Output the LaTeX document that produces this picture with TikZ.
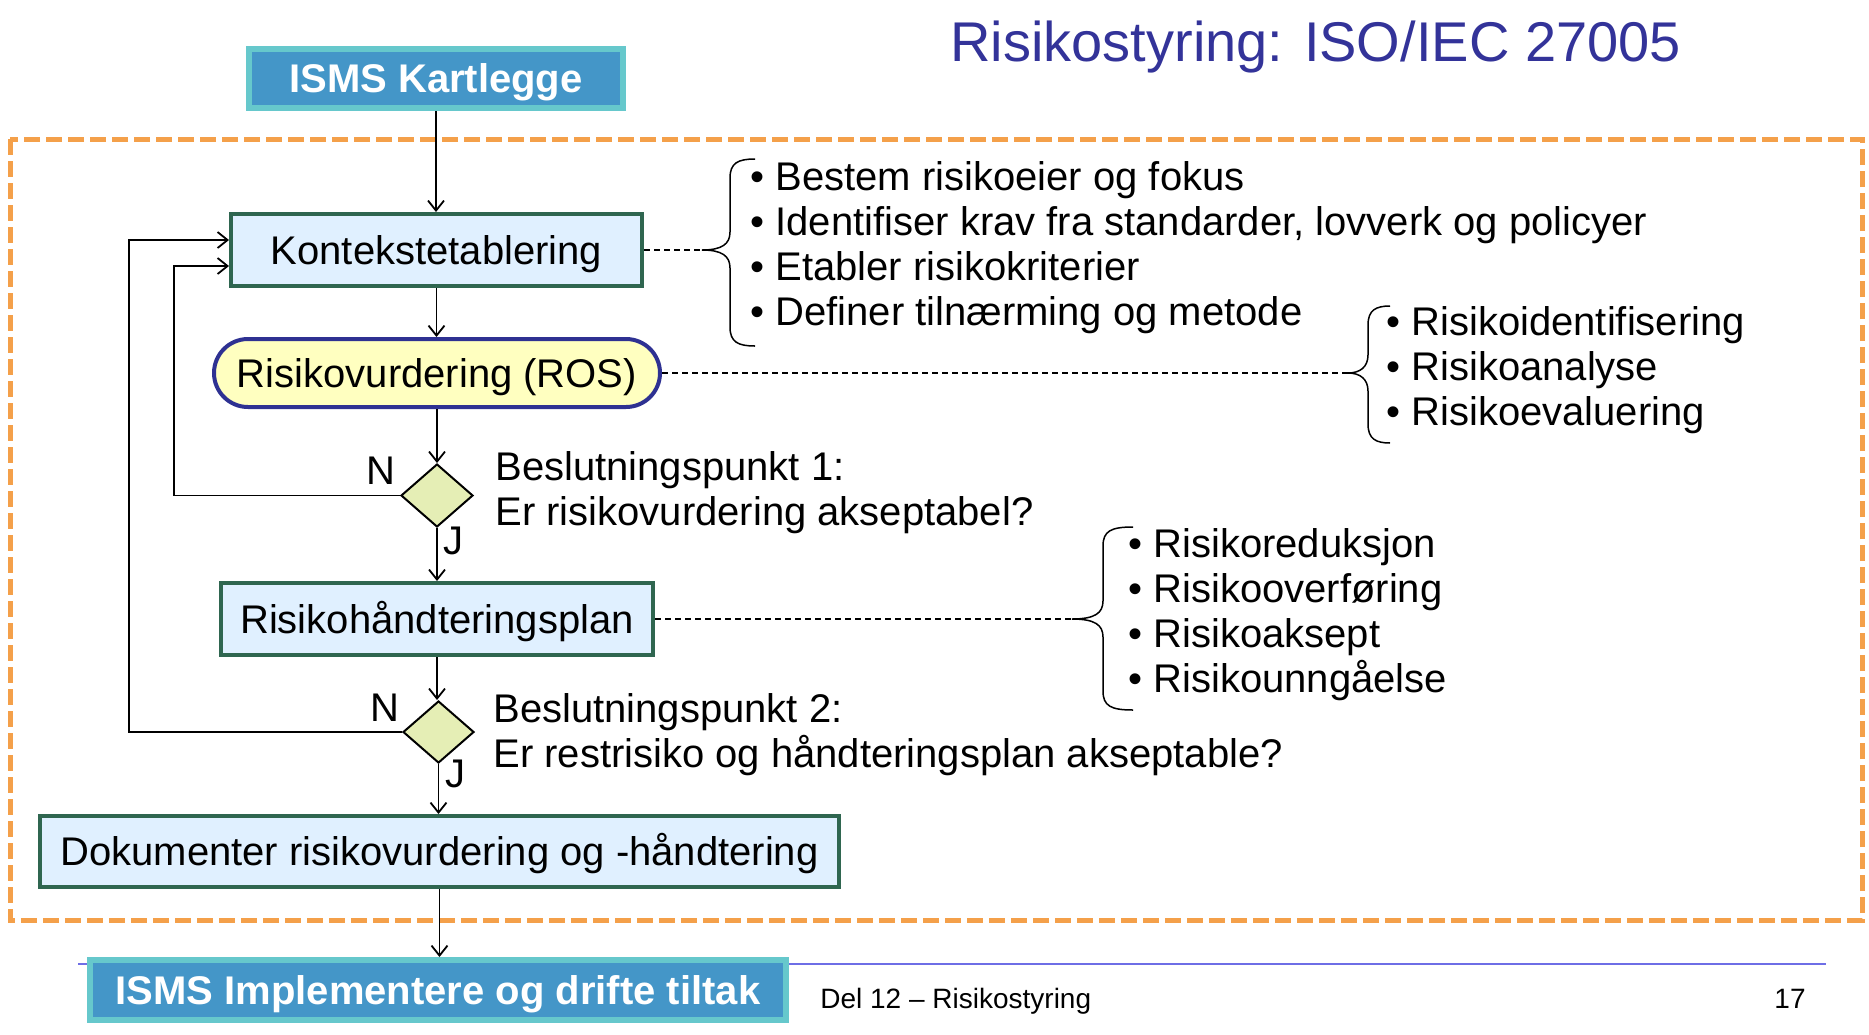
\documentclass[tikz,border=0pt]{standalone}
\usepackage{fontspec}
\setmainfont{Liberation Sans}
\usetikzlibrary{arrows.meta,shapes.geometric}
\definecolor{kartfill}{RGB}{68,150,200}
\definecolor{kartdraw}{RGB}{102,200,204}
\definecolor{boxfill}{RGB}{224,240,255}
\definecolor{boxdraw}{RGB}{47,102,80}
\definecolor{rosfill}{RGB}{255,255,192}
\definecolor{rosdraw}{RGB}{46,49,146}
\definecolor{diafill}{RGB}{229,238,181}
\definecolor{orangeline}{RGB}{244,160,74}
\definecolor{titleblue}{RGB}{51,51,153}
\definecolor{footline}{RGB}{110,110,230}
\newcommand\drawbrace[6]{%
  \draw[bracestyle] (#1,#4) .. controls ({#2+8},#4) and (#2,{#4+4}) .. (#2,{#4+19})
    -- (#2,{#5-18}) .. controls (#2,{#5-6}) and ({#2-8},#5) .. (#3,#5)
    .. controls ({#2-8},#5) and (#2,{#5+6}) .. (#2,{#5+18})
    -- (#2,{#6-19}) .. controls (#2,{#6-4}) and ({#2+8},#6) .. (#1,#6);}
\begin{document}
\begin{tikzpicture}[x=0.5pt,y=-0.5pt,
  fb/.style={font=\fontsize{20}{22.5}\selectfont},
  boxtext/.style={text height=18pt, text depth=4pt},
  isms/.style={draw=kartdraw, fill=kartfill, line width=3pt, text=white,
    font=\fontsize{20}{22.5}\selectfont\bfseries, inner sep=0pt, boxtext},
  flowbox/.style={draw=boxdraw, fill=boxfill, line width=2pt, fb, inner sep=0pt, boxtext},
  rosbox/.style={draw=rosdraw, fill=rosfill, line width=2pt, fb, inner sep=0pt,
    rounded corners=17pt, boxtext},
  decision/.style={shape=diamond, draw=black, line width=1pt, fill=diafill,
    inner sep=0pt},
  arr/.style={-{Straight Barb[length=5pt,width=8pt]}, line width=0.9pt},
  dashcon/.style={dashed, line width=0.6pt, dash pattern=on 3pt off 2pt},
  bracestyle/.style={line width=0.75pt},
  lt/.style={fb, anchor=base west, inner sep=0pt},
  yn/.style={fb, inner sep=0pt}
]
\useasboundingbox (0,0) rectangle (1869,1034);

% footer rule and orange frame
\draw[footline, line width=0.75pt] (78,964) -- (1826,964);
\draw[orangeline, line width=2.5pt, dash pattern=on 8pt off 3pt] (10,139) rectangle (1862,920);

% title
\node[anchor=base west, inner sep=0pt, text=titleblue,
  font=\fontsize{28}{32}\selectfont] (title) at (950,61) {Risikostyring: ISO/IEC 27005};

% flow nodes
\node[isms, minimum width=187.25pt, minimum height=29.5pt] (kart) at (436,78.5) {ISMS Kartlegge};
\node[flowbox, minimum width=205.5pt, minimum height=36pt] (kont) at (436.5,250) {Kontekstetablering};
\node[rosbox, minimum width=223pt, minimum height=34pt] (ros) at (437,373) {Risikovurdering (ROS)};
\node[decision, minimum width=36pt, minimum height=31.5pt] (d1) at (437,495.5) {};
\node[flowbox, minimum width=216pt, minimum height=36pt] (plan) at (437,619) {Risikohåndteringsplan};
\node[decision, minimum width=35.5pt, minimum height=31pt] (d2) at (438.5,732) {};
\node[flowbox, minimum width=399.5pt, minimum height=35.5pt] (dok) at (439.5,851.5) {Dokumenter risikovurdering og -håndtering};
\node[isms, minimum width=348pt, minimum height=30pt] (impl) at (438,990) {ISMS Implementere og drifte tiltak};

% N / J labels
\node[yn] (n1) at (381,471) {N};
\node[yn] (j1) at (453,541) {J};
\node[yn] (n2) at (385,708) {N};
\node[yn] (j2) at (455,774) {J};

% decision texts
\node[lt] (q1a) at (495,480) {Beslutningspunkt 1:};
\node[lt] (q1b) at (495,525) {Er risikovurdering akseptabel?};
\node[lt] (q2a) at (493,722) {Beslutningspunkt 2:};
\node[lt] (q2b) at (493,767) {Er restrisiko og håndteringsplan akseptable?};

% vertical flow arrows
\draw[arr] (kart.south) -- (kart.south |- kont.north);
\draw[arr] (kont.south) -- (kont.south |- ros.north);
\draw[arr] (ros.south) -- (ros.south |- d1.north);
\draw[arr] (d1.south) -- (d1.south |- plan.north);
\draw[arr] (plan.south) -- (plan.south |- d2.north);
\draw[arr] (d2.south) -- (d2.south |- dok.north);
\draw[arr] (dok.south) -- (dok.south |- impl.north);

% feedback loops
\coordinate (kA) at ([yshift=5pt]kont.west);
\coordinate (kB) at ([yshift=-8pt]kont.west);
\coordinate (fo) at (129,732);
\coordinate (fi) at (174,496);
\draw[arr] (d2.west) -- (d2.west -| fo) -- (fo |- kA) -- (kA);
\draw[arr] (d1.west) -- (d1.west -| fi) -- (fi |- kB) -- (kB);

% braces
\coordinate (b1) at (702,250);
\coordinate (b2) at (1348,373);
\coordinate (b3) at (1072,619);
\drawbrace{755}{730}{702}{159}{250}{346}
\drawbrace{1390}{1368}{1348}{306}{373}{443}
\drawbrace{1133}{1103}{1072}{527}{619}{710}

\draw[dashcon] (kont.east) -- (b1);
\draw[dashcon] (ros.east) -- (b2);
\draw[dashcon] (plan.east) -- (b3);

% bullet lists
\node[lt] (a1) at (750,190) {• Bestem risikoeier og fokus};
\node[lt] (a2) at (750,235) {• Identifiser krav fra standarder, lovverk og policyer};
\node[lt] (a3) at (750,280) {• Etabler risikokriterier};
\node[lt] (a4) at (750,325) {• Definer tilnærming og metode};

\node[lt] (c1) at (1386,335) {• Risikoidentifisering};
\node[lt] (c2) at (1386,380) {• Risikoanalyse};
\node[lt] (c3) at (1386,425) {• Risikoevaluering};

\node[lt] (e1) at (1128,557) {• Risikoreduksjon};
\node[lt] (e2) at (1128,602) {• Risikooverføring};
\node[lt] (e3) at (1128,647) {• Risikoaksept};
\node[lt] (e4) at (1128,692) {• Risikounngåelse};

% footer
\node[anchor=base west, inner sep=0pt, font=\fontsize{14}{16}\selectfont] (foot) at (820,1008) {Del 12 – Risikostyring};
\node[anchor=base east, inner sep=0pt, font=\fontsize{14}{16}\selectfont] (page) at (1806,1008) {17};
\end{tikzpicture}
\end{document}
